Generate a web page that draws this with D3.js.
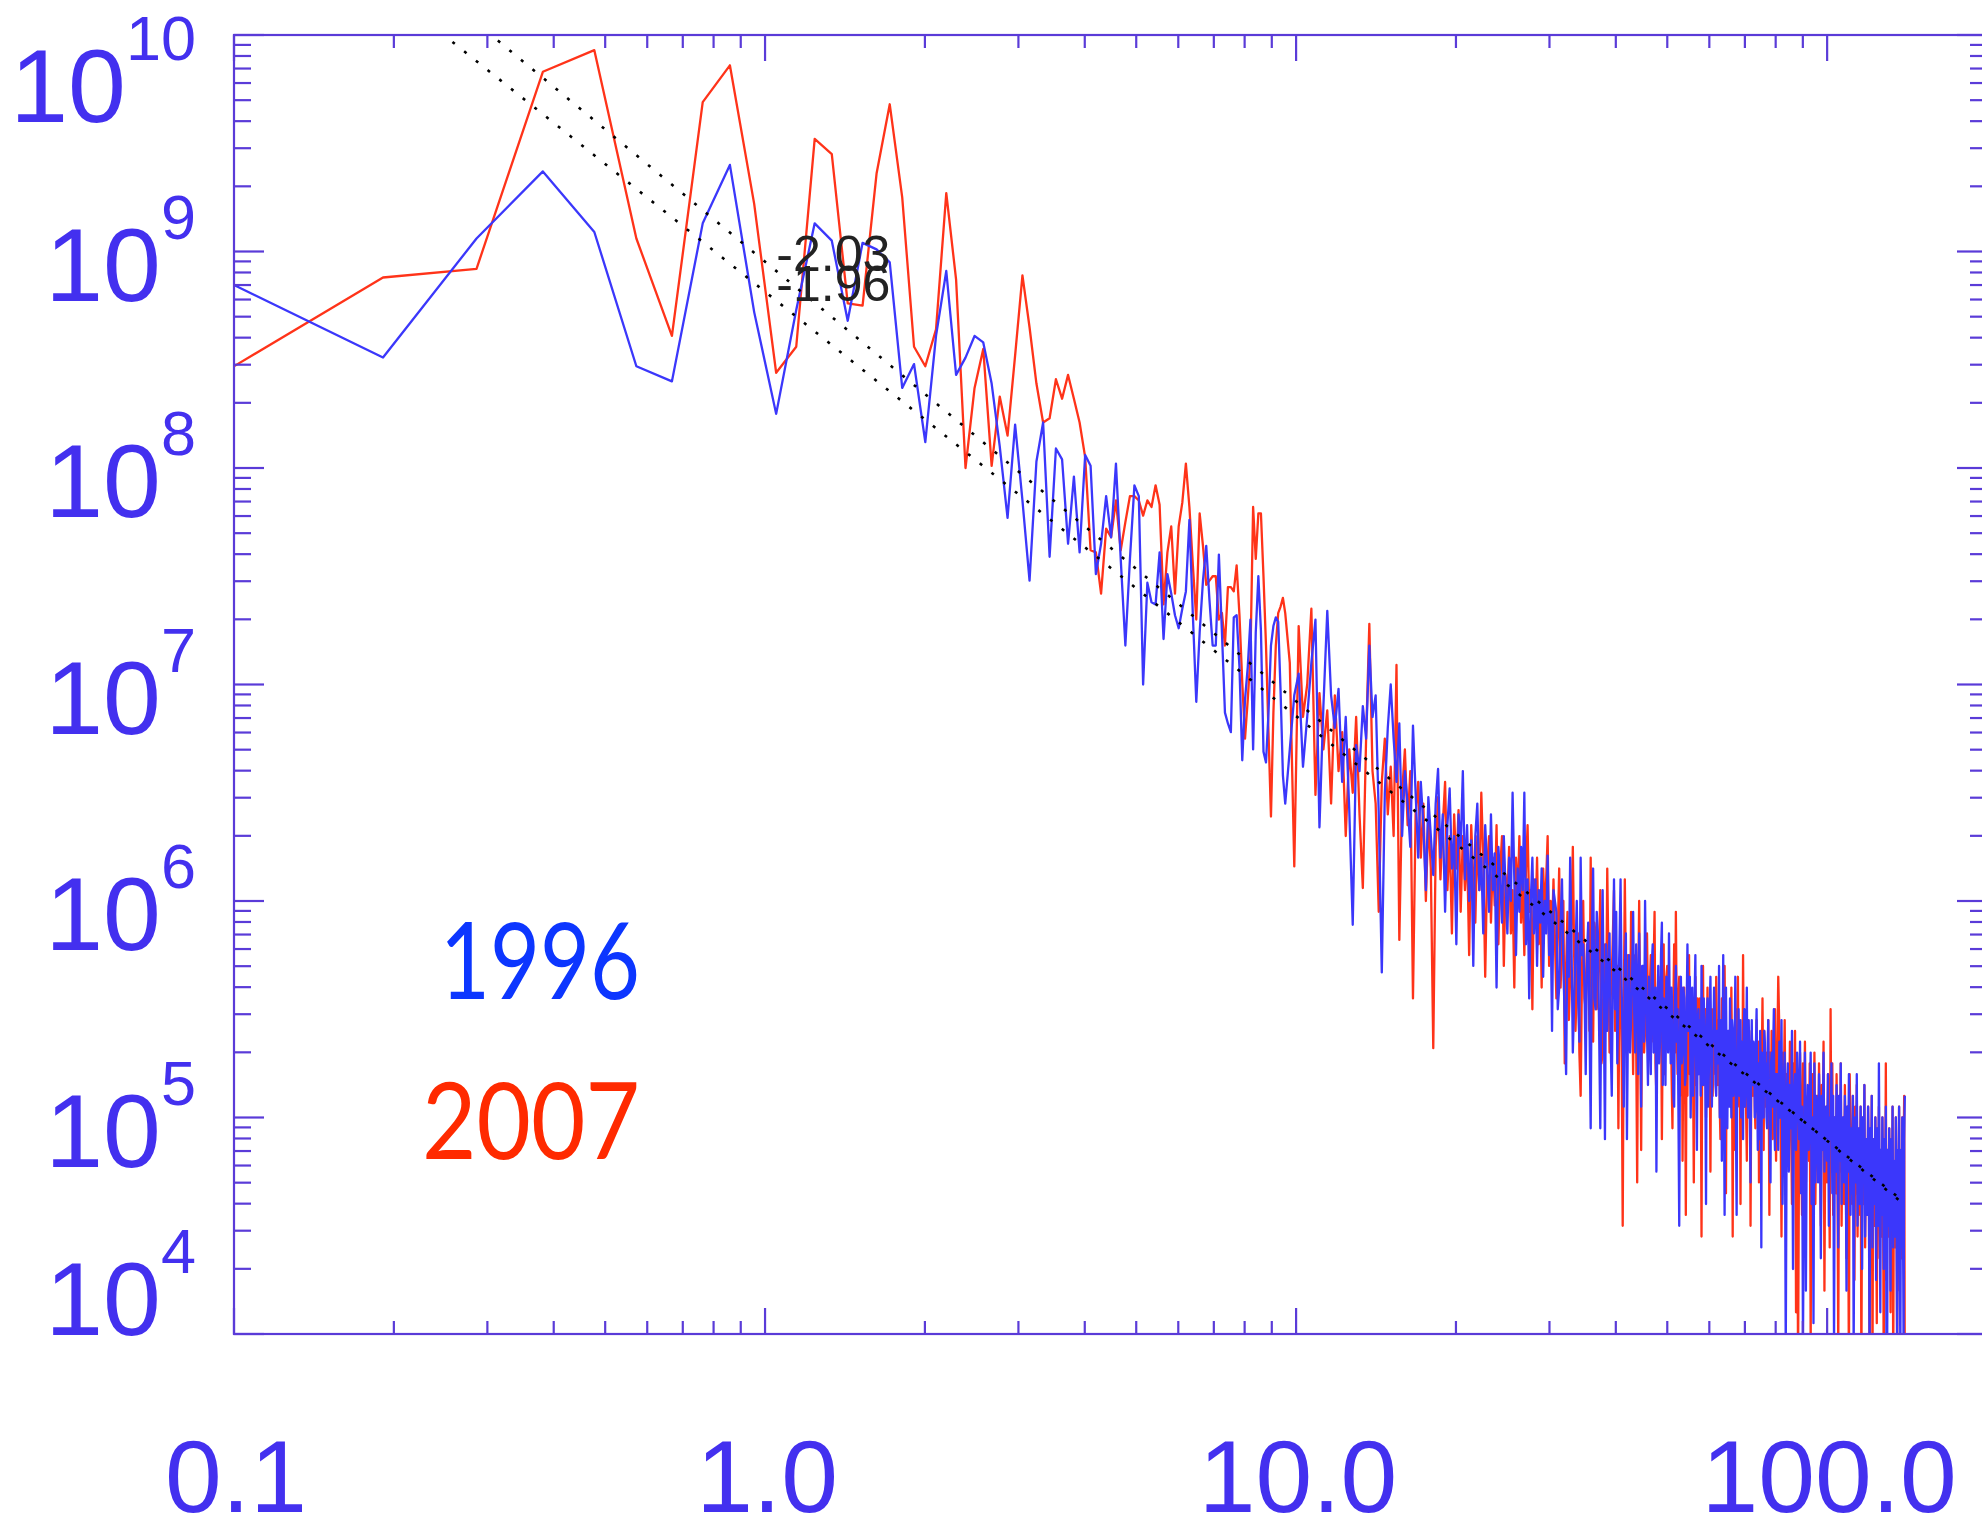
<!DOCTYPE html>
<html>
<head>
<meta charset="utf-8">
<script src="https://cdn.jsdelivr.net/npm/d3@7"></script>
<style>
  body { margin: 0; background: #fff; }
  svg { display: block; }
</style>
</head>
<body>
<div id="chart"></div>
<script>
// spectra sit on a regular frequency grid: f = k * FREQ_STEP
const FREQ_STEP = 0.0954;
// first k of each stored block and the k stride inside it
const lowStart = 1, lowStride = 1;
const midStart = 102, midStride = 2;
const highAStart = 324, highAStride = 2;
const highBStart = 840, highBStride = 4;

// log10 of power
const power1996Low = [
  8.87, 8.51, 9.06, 9.37, 9.09, 8.47, 8.40, 9.13, 9.40, 8.72,
  8.25, 8.73, 9.13, 9.05, 8.68, 9.04, 9.01, 8.95, 8.37, 8.48,
  8.12, 8.61, 8.91, 8.43, 8.51, 8.61, 8.58, 8.39, 8.10, 7.77,
  8.20, 7.85, 7.48, 8.03, 8.21, 7.59, 8.09, 8.04, 7.65, 7.96,
  7.61, 8.06, 8.01, 7.51, 7.65, 7.87, 7.68, 8.02, 7.58, 7.18,
  7.58, 7.92, 7.87, 7.00, 7.47, 7.38, 7.37, 7.61, 7.21, 7.51,
  7.42, 7.32, 7.26, 7.35, 7.43, 7.76, 7.32, 6.92, 7.24, 7.48,
  7.64, 7.39, 7.18, 7.18, 7.60, 7.24, 6.87, 6.82, 6.78, 7.31,
  7.32, 7.08, 6.65, 6.93, 7.08, 7.30, 6.70, 7.24, 7.50, 7.25,
  6.69, 6.64, 6.87, 7.18, 7.27, 7.31, 7.29, 6.97, 6.58, 6.45
];
const power2007Low = [
  8.44, 8.88, 8.92, 9.83, 9.93, 9.06, 8.61, 9.69, 9.86, 9.22,
  8.44, 8.56, 9.52, 9.45, 8.76, 8.75, 9.36, 9.68, 9.25, 8.56,
  8.47, 8.64, 9.27, 8.87, 8.00, 8.37, 8.55, 8.01, 8.33, 8.15,
  8.52, 8.89, 8.65, 8.39, 8.21, 8.23, 8.41, 8.32, 8.43, 8.32,
  8.21, 8.05, 7.62, 7.61, 7.42, 7.72, 7.68, 7.85, 7.62, 7.75,
  7.87, 7.87, 7.85, 7.78, 7.85, 7.82, 7.92, 7.83, 7.37, 7.61,
  7.73, 7.42, 7.73, 7.84, 8.02, 7.82, 7.55, 7.30, 7.79, 7.64,
  7.46, 7.48, 7.50, 7.50, 7.30, 7.33, 7.18, 7.45, 7.45, 7.43,
  7.55, 7.32, 7.01, 6.75, 6.93, 7.13, 7.82, 7.58, 7.79, 7.79,
  7.50, 7.18, 6.78, 6.39, 6.87, 7.18, 7.33, 7.36, 7.40, 7.33
];
const power1996Mid = [
  6.70, 6.95, 7.05, 6.62, 6.85, 7.10, 7.30, 6.34, 6.90, 7.34,
  6.95, 6.80, 6.98, 6.55, 6.85, 6.42, 5.89, 6.72, 6.60, 6.90,
  6.75, 7.18, 6.85, 6.95, 6.40, 5.67, 6.50, 6.80, 7.00, 6.75,
  6.55, 6.82, 6.30, 6.60, 6.45, 6.25, 6.81, 6.50, 6.20, 6.55,
  6.35, 6.05, 6.48, 6.30, 6.12, 6.45, 6.61, 6.20, 6.40, 5.95,
  6.35, 6.52, 6.15, 6.30, 5.80, 6.40, 6.25, 6.60, 6.10, 6.35,
  6.00, 6.28, 5.70, 6.30, 6.45, 6.05, 6.20, 5.85, 6.35, 6.15,
  5.95, 6.40, 6.05, 6.22, 5.60, 6.25, 6.10, 5.90, 6.30, 6.05,
  5.85, 6.20, 6.00, 6.50, 6.10, 5.75, 6.15, 5.95, 6.25, 6.05,
  6.50, 5.80, 6.10, 5.55, 6.00, 6.20, 5.85, 6.10, 5.70, 6.05,
  5.90, 6.15, 5.65, 6.00, 5.85, 6.21, 5.75, 5.95, 5.40, 6.05
];
const power2007Mid = [
  7.10, 6.16, 7.27, 6.85, 7.00, 7.35, 6.49, 6.96, 6.70, 6.88,
  6.45, 6.95, 6.60, 6.78, 6.30, 6.70, 6.50, 6.85, 6.40, 6.06,
  6.75, 7.28, 6.60, 6.45, 5.95, 6.55, 6.75, 6.40, 6.62, 6.30,
  7.09, 5.82, 6.50, 6.70, 6.35, 6.60, 5.55, 6.40, 6.55, 6.20,
  6.45, 6.00, 6.38, 6.15, 5.32, 6.25, 6.48, 6.10, 6.35, 6.55,
  6.05, 6.30, 5.85, 6.40, 6.15, 6.42, 5.95, 6.30, 6.05, 6.25,
  5.75, 6.35, 6.10, 5.90, 6.30, 6.05, 6.50, 6.20, 5.65, 6.15,
  6.30, 5.90, 6.20, 5.98, 6.35, 5.80, 6.15, 6.30, 5.70, 6.12,
  6.00, 6.25, 5.85, 6.05, 5.60, 6.20, 6.00, 6.30, 5.90, 6.10,
  5.75, 6.15, 6.35, 5.95, 6.05, 5.50, 6.10, 5.90, 6.20, 5.80,
  6.05, 5.60, 6.15, 5.95, 6.10, 6.30, 5.70, 6.00, 5.85, 6.10
];
const power1996HighA = [
  5.95, 5.50, 5.60, 5.90, 6.10, 5.70, 5.45, 5.20, 5.85, 5.65, 6.20, 5.80, 5.30, 5.55, 5.75, 6.00, 5.55, 5.35, 6.20, 5.75,
  5.80, 5.60, 5.20, 5.75, 5.90, 5.45, 4.95, 5.85, 6.15, 5.55, 5.50, 5.95, 5.85, 5.40, 4.95, 5.70, 6.05, 5.50, 4.90, 5.80,
  5.40, 5.70, 5.85, 5.35, 5.10, 5.65, 6.10, 5.50, 5.95, 5.25, 5.55, 5.80, 6.10, 5.60, 5.35, 5.05, 5.70, 5.85, 4.90, 5.45,
  5.75, 5.30, 5.45, 5.65, 5.95, 5.50, 5.30, 5.80, 5.60, 5.20, 5.85, 5.55, 5.05, 5.70, 5.70, 5.35, 6.00, 5.60, 5.40, 5.15,
  5.65, 5.40, 5.20, 5.70, 5.80, 5.30, 5.50, 5.60, 4.75, 5.45, 5.70, 5.25, 5.35, 5.75, 5.90, 5.15, 5.55, 5.50, 5.15, 5.65,
  5.60, 5.30, 5.85, 5.45, 5.25, 5.60, 5.45, 5.10, 5.05, 5.55, 5.70, 5.35, 5.50, 5.05, 4.50, 5.40, 5.65, 5.25, 5.30, 5.60,
  5.55, 5.15, 5.20, 5.50, 5.80, 5.40, 5.40, 5.65, 5.00, 5.30, 5.60, 5.10, 5.30, 5.55, 5.75, 5.25, 4.85, 5.45, 5.50, 5.20,
  5.45, 5.10, 5.70, 5.35, 5.15, 5.55, 5.40, 5.20, 4.60, 5.45, 5.55, 5.05, 5.25, 5.50, 5.65, 5.30, 5.05, 5.40, 5.35, 5.60,
  5.50, 5.15, 5.10, 5.40, 5.40, 5.25, 5.70, 5.00, 5.20, 5.45, 4.80, 5.30, 5.75, 5.10, 4.55, 5.35, 5.60, 5.20, 4.95, 5.40,
  5.35, 5.05, 5.55, 5.25, 5.00, 5.45, 5.40, 5.10, 5.15, 5.35, 5.65, 4.95, 4.55, 5.30, 5.30, 5.50, 5.10, 5.20, 5.45, 5.00,
  5.35, 5.20, 4.90, 5.40, 5.50, 5.05, 5.20, 5.30, 5.60, 5.10, 5.00, 5.45, 5.30, 4.95, 4.70, 5.25, 5.45, 5.15, 5.15, 5.35,
  5.30, 5.00, 5.05, 5.35, 5.50, 5.15, 4.85, 5.25, 5.25, 4.90, 5.40, 5.20, 4.40, 5.30, 5.20, 5.05, 5.00, 5.40, 5.35, 5.10,
  5.25, 5.00, 4.95, 5.30, 5.45, 5.10, 5.10, 4.85, 4.70, 5.25, 5.30, 5.05, 5.05, 5.35, 5.50, 4.95, 4.85, 5.20
];
const power2007HighA = [
  5.55, 5.85, 6.15, 5.60, 5.80, 6.00, 5.25, 5.70, 5.95, 5.45, 5.65, 5.90, 6.25, 5.75, 5.40, 5.60, 5.85, 5.30, 5.10, 5.65,
  6.00, 5.55, 5.50, 5.80, 5.75, 5.40, 6.20, 5.65, 5.35, 5.90, 5.85, 5.50, 5.60, 5.75, 6.05, 5.25, 5.30, 5.70, 5.80, 5.45,
  6.15, 5.75, 5.30, 5.55, 5.65, 5.85, 6.05, 5.40, 5.45, 5.70, 4.95, 5.60, 5.80, 5.35, 4.50, 5.50, 6.10, 5.65, 5.40, 5.75,
  5.65, 5.40, 5.95, 5.55, 5.20, 5.70, 5.75, 5.35, 4.70, 5.60, 6.00, 5.45, 4.85, 5.65, 5.60, 5.30, 5.40, 5.75, 5.85, 5.50,
  5.30, 5.60, 5.75, 5.35, 5.55, 5.70, 5.95, 5.25, 5.10, 5.50, 5.65, 5.40, 5.40, 5.60, 4.90, 5.45, 5.80, 5.20, 5.50, 5.65,
  5.70, 5.45, 5.35, 5.60, 5.55, 5.20, 4.95, 5.50, 5.80, 5.30, 5.95, 5.45, 5.20, 5.55, 5.65, 5.10, 5.40, 5.60, 4.80, 5.35,
  5.60, 5.30, 4.55, 5.45, 5.10, 5.55, 5.75, 5.20, 5.30, 5.50, 5.55, 5.25, 4.70, 5.40, 5.65, 5.15, 5.40, 5.55, 5.20, 5.45,
  5.55, 5.25, 4.45, 5.40, 5.70, 5.15, 5.35, 5.50, 5.00, 5.30, 5.60, 5.20, 5.45, 5.35, 4.75, 5.45, 5.50, 5.10, 5.25, 5.40,
  5.45, 5.20, 5.65, 5.35, 5.15, 5.45, 5.40, 5.05, 4.90, 5.30, 5.55, 5.15, 5.30, 5.40, 5.70, 5.25, 4.65, 5.35, 5.35, 5.10,
  5.40, 5.15, 5.10, 5.35, 5.60, 5.25, 4.45, 5.40, 4.85, 5.30, 5.50, 5.05, 5.20, 5.45, 5.65, 5.15, 5.05, 5.30, 4.60, 5.35,
  5.35, 5.10, 5.75, 5.30, 5.05, 5.40, 5.30, 5.00, 4.80, 5.25, 5.45, 5.15, 5.20, 5.35, 4.50, 5.05, 5.40, 5.25, 5.10, 5.30,
  5.30, 5.05, 4.95, 5.25, 5.45, 5.10, 5.20, 5.35, 4.70, 5.15, 5.35, 5.00, 5.10, 5.30, 5.55, 5.20, 4.85, 5.40, 5.25, 5.05,
  5.30, 5.15, 5.00, 5.25, 5.45, 5.05, 4.55, 5.30, 5.20, 5.10, 5.40, 4.95, 4.90, 5.20, 5.25, 5.35, 5.50, 5.00
];
const power1996HighB = [
  5.20,
  5.20, 4.85, 5.35, 5.00, 5.45, 4.60, 5.15, 5.30, 3.90, 5.10,
  5.25, 4.75, 5.15, 4.95, 5.40, 4.30, 5.10, 5.20, 4.85, 5.30,
  5.10, 4.90, 5.35, 4.65, 5.05, 3.95, 4.80, 5.30, 4.20, 5.00,
  5.15, 4.85, 5.05, 5.30, 4.60, 5.00, 4.05, 5.25, 4.70, 5.10,
  5.05, 4.70, 5.20, 4.95, 4.35, 5.10, 4.85, 5.30, 4.75, 5.00,
  5.05, 4.80, 5.20, 4.50, 5.00, 4.90, 5.25, 4.65, 5.10, 3.95,
  5.00, 4.75, 5.15, 4.90, 4.40, 5.10, 4.80, 5.25, 4.60, 4.95,
  5.00, 4.70, 5.10, 4.85, 4.20, 5.05, 4.75, 5.20, 4.90, 4.55,
  4.95, 4.65, 5.10, 3.90, 4.85, 5.00, 4.70, 5.20, 4.50, 4.90,
  4.95, 4.60, 5.05, 4.80, 4.30, 5.00, 4.70, 5.15, 4.45, 4.85,
  4.90, 4.55, 5.05, 4.75, 3.85, 4.95, 4.65, 5.10, 4.40, 4.85,
  4.90, 4.60, 5.00, 4.25, 4.80, 4.95, 4.50, 5.25, 4.70, 4.10,
  4.85, 4.55, 5.00, 4.70, 4.30, 4.90, 4.60, 5.05, 3.80, 3.95,
  4.85, 4.50, 4.95, 4.65, 4.20, 4.90, 4.55, 5.05, 4.40, 4.75,
  4.80, 4.45, 5.00, 4.60, 3.90, 4.85, 4.55, 5.05, 4.35, 3.90,
  4.85, 4.40, 5.00, 4.60, 3.95, 4.90, 5.10
];
const power2007HighB = [
  4.80,
  5.25, 5.65, 5.40, 5.10, 4.45, 5.30, 5.05, 5.45, 4.75, 5.20,
  5.20, 4.85, 5.35, 5.05, 4.60, 5.25, 4.95, 5.40, 4.10, 5.10,
  3.85, 4.85, 5.30, 5.00, 4.55, 5.25, 4.90, 5.35, 4.70, 5.05,
  5.10, 4.80, 5.25, 3.95, 5.05, 5.20, 4.85, 5.30, 4.60, 5.00,
  5.10, 4.75, 5.25, 4.95, 4.50, 5.15, 4.85, 5.35, 4.20, 5.00,
  5.05, 4.70, 5.20, 4.90, 4.40, 5.50, 4.80, 5.25, 4.55, 5.00,
  5.00, 4.65, 5.20, 4.85, 3.90, 5.10, 4.75, 5.25, 4.50, 4.95,
  5.00, 4.60, 5.15, 4.80, 4.35, 5.05, 4.70, 3.80, 5.20, 4.90,
  4.95, 4.60, 5.10, 4.75, 4.25, 5.05, 4.65, 5.15, 4.45, 4.90,
  4.95, 4.55, 5.05, 3.80, 4.85, 5.00, 4.60, 5.15, 4.40, 4.85,
  4.90, 4.55, 5.05, 4.70, 3.80, 4.95, 4.60, 5.10, 3.85, 4.80,
  4.90, 4.50, 5.00, 4.70, 4.05, 4.95, 4.60, 5.05, 4.35, 4.80,
  4.85, 4.45, 5.00, 4.65, 3.75, 4.90, 4.55, 5.25, 4.25, 4.80,
  4.85, 4.45, 4.95, 4.60, 4.10, 4.90, 4.50, 5.05, 3.80, 4.75,
  4.80, 4.40, 5.00, 4.55, 3.95, 4.85, 4.50, 5.05, 4.20, 4.70,
  4.85, 4.35, 5.00, 4.55, 4.80, 5.10, 3.70
];

// power-law fits: slope, power at f = 1, label
const fitSlopes = [-2.03, -1.96];
const fitAmplitudes = [8.97e8, 6.52e8];
const fitLabels = ["-2.03", "-1.96"];
const fitRange = [0.2, 140];
const fitLabelFreq = 1.05;

const xTickValues = [0.1, 1, 10, 100];
const xTickLabels = ["0.1", "1.0", "10.0", "100.0"];
const yTickExponents = [4, 5, 6, 7, 8, 9, 10];
const legendYears = ["1996", "2007"];

const W = 1982, H = 1523;
const margin = { left: 234, right: 1987, top: 35, bottom: 1334 };
const axisColor = "#5a3bd8";
const labelColor = "#4330ef";
const lineColors = { "1996": "#3b37fb", "2007": "#ff3319" };
const legendColors = { "1996": "#0c36ff", "2007": "#ff2a00" };
const numFont = "'Liberation Sans', Arial, Helvetica, sans-serif";

const svg = d3.select("#chart").append("svg")
    .attr("width", W)
    .attr("height", H);

const x = d3.scaleLog().domain([0.1, 200]).range([margin.left, margin.right]);
const y = d3.scaleLog().domain([1e4, 1e10]).range([margin.bottom, margin.top]);

function buildSeries(blocks) {
    const pts = [];
    blocks.forEach(([start, stride, vals]) => {
        vals.forEach((v, i) => pts.push([(start + i * stride) * FREQ_STEP, Math.pow(10, v)]));
    });
    return pts;
}

const series = [
    { year: "2007", pts: buildSeries([
        [lowStart, lowStride, power2007Low],
        [midStart, midStride, power2007Mid],
        [highAStart, highAStride, power2007HighA],
        [highBStart, highBStride, power2007HighB]]) },
    { year: "1996", pts: buildSeries([
        [lowStart, lowStride, power1996Low],
        [midStart, midStride, power1996Mid],
        [highAStart, highAStride, power1996HighA],
        [highBStart, highBStride, power1996HighB]]) }
];

svg.append("clipPath").attr("id", "plot-clip")
    .append("rect")
    .attr("x", margin.left).attr("y", margin.top)
    .attr("width", margin.right - margin.left)
    .attr("height", margin.bottom - margin.top);

const plot = svg.append("g").attr("clip-path", "url(#plot-clip)");

const line = d3.line().x(d => x(d[0])).y(d => y(d[1]));

plot.selectAll("path.spec")
    .data(series)
    .join("path")
    .attr("class", "spec")
    .attr("d", d => line(d.pts))
    .attr("fill", "none")
    .attr("stroke", d => lineColors[d.year])
    .attr("stroke-width", 2.3)
    .attr("stroke-linejoin", "round");

// dotted fit lines
fitSlopes.forEach((s, i) => {
    const p = f => fitAmplitudes[i] * Math.pow(f, s);
    plot.append("line")
        .attr("x1", x(fitRange[0])).attr("y1", y(p(fitRange[0])))
        .attr("x2", x(fitRange[1])).attr("y2", y(p(fitRange[1])))
        .attr("stroke", "#000")
        .attr("stroke-width", 2.6)
        .attr("stroke-dasharray", "3 12");
    svg.append("text")
        .attr("x", x(fitLabelFreq))
        .attr("y", y(p(fitLabelFreq)))
        .attr("font-family", numFont)
        .attr("font-size", 50)
        .attr("fill", "#222")
        .text(fitLabels[i]);
});

// frame and ticks
const frame = svg.append("g").attr("stroke", axisColor).attr("stroke-width", 2.2).attr("fill", "none");
frame.append("rect")
    .attr("x", margin.left).attr("y", margin.top)
    .attr("width", margin.right - margin.left)
    .attr("height", margin.bottom - margin.top);

function logTicks(lo, hi) {
    const out = [];
    for (let e = Math.floor(Math.log10(lo)); e <= Math.ceil(Math.log10(hi)); e++) {
        for (let m = 1; m <= 9; m++) {
            const v = m * Math.pow(10, e);
            if (v >= lo * 0.999 && v <= hi * 1.001) out.push({ v, major: m === 1 });
        }
    }
    return out;
}

logTicks(0.1, 200).forEach(t => {
    const xx = x(t.v);
    const len = t.major ? 26 : 13;
    frame.append("line").attr("x1", xx).attr("x2", xx).attr("y1", margin.bottom).attr("y2", margin.bottom - len);
    frame.append("line").attr("x1", xx).attr("x2", xx).attr("y1", margin.top).attr("y2", margin.top + len);
});

logTicks(1e4, 1e10).forEach(t => {
    const yy = y(t.v);
    const len = t.major ? 30 : 17;
    frame.append("line").attr("y1", yy).attr("y2", yy).attr("x1", margin.left).attr("x2", margin.left + len);
    frame.append("line").attr("y1", yy).attr("y2", yy).attr("x1", margin.right).attr("x2", margin.right - len);
});

// y labels: 10^n, kept inside the frame at the ends
yTickExponents.forEach(e => {
    const base = Math.max(margin.top + 87, Math.min(margin.bottom + 1, y(Math.pow(10, e)) + 49));
    const t = svg.append("text")
        .attr("x", 196)
        .attr("y", base)
        .attr("text-anchor", "end")
        .attr("font-family", numFont)
        .attr("fill", labelColor);
    t.append("tspan").attr("font-size", 104).text("10");
    t.append("tspan").attr("font-size", 63).attr("dy", -62).text(e);
});

// x labels
xTickValues.forEach((v, i) => {
    svg.append("text")
        .attr("x", x(v) + 2)
        .attr("y", 1512)
        .attr("text-anchor", "middle")
        .attr("font-family", numFont)
        .attr("font-size", 102)
        .attr("fill", labelColor)
        .text(xTickLabels[i]);
});

// year legend
const legendWidths = [200, 218];
legendYears.forEach((yr, i) => {
    svg.append("text")
        .attr("x", 640)
        .attr("y", 999 + i * 160)
        .attr("text-anchor", "end")
        .attr("font-family", "Lato, 'Open Sans', sans-serif")
        .attr("font-size", 107)
        .attr("textLength", legendWidths[i])
        .attr("lengthAdjust", "spacingAndGlyphs")
        .attr("fill", legendColors[yr])
        .text(yr);
});
</script>
</body>
</html>
